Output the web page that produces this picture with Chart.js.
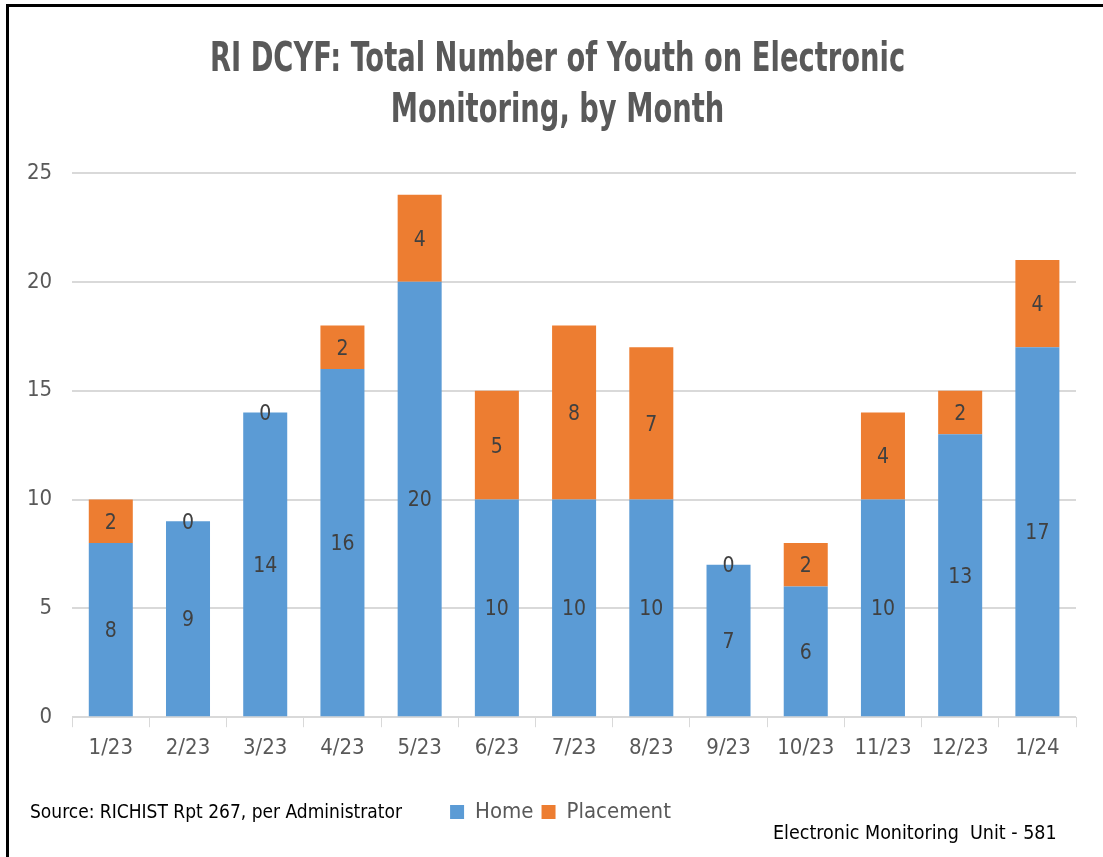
<!DOCTYPE html>
<html lang="en">
<head>
    <meta charset="UTF-8">
    <title>RI DCYF Electronic Monitoring</title>
    <script src="https://cdn.jsdelivr.net/npm/chart.js"></script>
    <style>
        body {
            margin: 0;
            background: #fff;
            font-family: "DejaVu Sans Condensed", "Liberation Sans Narrow", Arial, sans-serif;
        }
        .wrap {
            position: relative;
            width: 1103px;
            height: 857px;
            overflow: hidden;
        }
        .frame {
            position: absolute;
            left: 6px;
            top: 4px;
            width: 1110px;
            height: 870px;
            border-left: 3px solid #000;
            border-top: 3px solid #000;
        }
        #grafico {
            position: absolute;
            left: 0;
            top: 0;
        }
        .note {
            position: absolute;
            color: #000;
            font-size: 19px;
            white-space: nowrap;
        }
    </style>
</head>
<body>
<div class="wrap">
    <div class="frame"></div>
    <canvas id="grafico" width="1103" height="857"></canvas>
    <div class="note" style="left:30px; top:800px;">Source: RICHIST Rpt 267, per Administrator</div>
    <div class="note" style="left:773px; top:821px; font-size:19.5px;">Electronic Monitoring&nbsp; Unit - 581</div>
</div>

<script>
// dati
const mesi = ['1/23', '2/23', '3/23', '4/23', '5/23', '6/23', '7/23', '8/23', '9/23', '10/23', '11/23', '12/23', '1/24'];
const home = [8, 9, 14, 16, 20, 10, 10, 10, 7, 6, 10, 13, 17];
const placement = [2, 0, 0, 2, 4, 5, 8, 7, 0, 2, 4, 2, 4];
const yTicks = [0, 5, 10, 15, 20, 25];
const titolo = ['RI DCYF: Total Number of Youth on Electronic', 'Monitoring, by Month'];

const FONT = '"DejaVu Sans Condensed", "Liberation Sans Narrow", Arial, sans-serif';

// titolo stretto (il font originale e' molto condensato)
const titoloStretto = {
    id: 'titoloStretto',
    afterDraw(chart) {
        const ctx = chart.ctx;
        ctx.save();
        ctx.font = 'bold 40px ' + FONT;
        ctx.fillStyle = '#595959';
        ctx.textAlign = 'center';
        ctx.textBaseline = 'middle';
        ctx.translate(chart.width / 2 + 6, 0);
        ctx.scale(0.76, 1);
        titolo.forEach((riga, i) => ctx.fillText(riga, 0, 61 + i * 51));
        ctx.restore();
    }
};

// etichette dei valori al centro di ogni segmento
const etichette = {
    id: 'etichette',
    afterDatasetsDraw(chart) {
        const ctx = chart.ctx;
        ctx.save();
        ctx.font = '21px ' + FONT;
        ctx.fillStyle = '#404040';
        ctx.textAlign = 'center';
        ctx.textBaseline = 'middle';
        chart.data.datasets.forEach((ds, i) => {
            chart.getDatasetMeta(i).data.forEach((bar, j) => {
                const y = (bar.y + bar.base) / 2 + 2;
                ctx.fillText(String(ds.data[j]), bar.x, y);
            });
        });
        ctx.restore();
    }
};

// la legenda nell'originale e' un po' spostata a destra
const spostaLegenda = {
    id: 'spostaLegenda',
    afterLayout(chart) {
        chart.legend.left += 19;
        chart.legend.right += 19;
    }
};

let ctx = document.getElementById('grafico').getContext('2d');
let chart = new Chart(ctx, {
    type: 'bar',
    data: {
        labels: mesi,
        datasets: [{
            label: 'Home',
            data: home,
            backgroundColor: '#5b9bd5',
            borderWidth: 0,
            categoryPercentage: 1,
            barPercentage: 0.57
        }, {
            label: 'Placement',
            data: placement,
            backgroundColor: '#ed7d31',
            borderWidth: 0,
            categoryPercentage: 1,
            barPercentage: 0.57
        }]
    },
    options: {
        responsive: false,
        animation: false,
        layout: {
            padding: { left: 7, right: 27, top: 173, bottom: 24 }
        },
        plugins: {
            title: { display: false },
            legend: {
                position: 'bottom',
                // titolo vuoto solo per lasciare spazio sopra la legenda
                title: {
                    display: true,
                    text: '',
                    font: { size: 12 },
                    padding: { top: 9, bottom: 0 }
                },
                labels: {
                    color: '#595959',
                    font: { family: FONT, size: 22 },
                    boxWidth: 14,
                    boxHeight: 14,
                    padding: 8
                }
            },
            tooltip: { enabled: false }
        },
        scales: {
            x: {
                stacked: true,
                border: { color: '#d9d9d9', width: 1 },
                grid: {
                    display: true,
                    drawOnChartArea: false,
                    color: '#d9d9d9',
                    tickLength: 10
                },
                ticks: {
                    color: '#595959',
                    font: { family: FONT, size: 22 },
                    padding: 8
                }
            },
            y: {
                stacked: true,
                min: 0,
                max: 25,
                afterBuildTicks(axis) {
                    axis.ticks = yTicks.map(v => ({ value: v }));
                },
                border: { display: false },
                grid: {
                    color: '#d9d9d9',
                    lineWidth: 2,
                    drawTicks: false
                },
                ticks: {
                    color: '#595959',
                    font: { family: FONT, size: 22 },
                    padding: 20
                }
            }
        }
    },
    plugins: [etichette, titoloStretto, spostaLegenda]
});
</script>
</body>
</html>
